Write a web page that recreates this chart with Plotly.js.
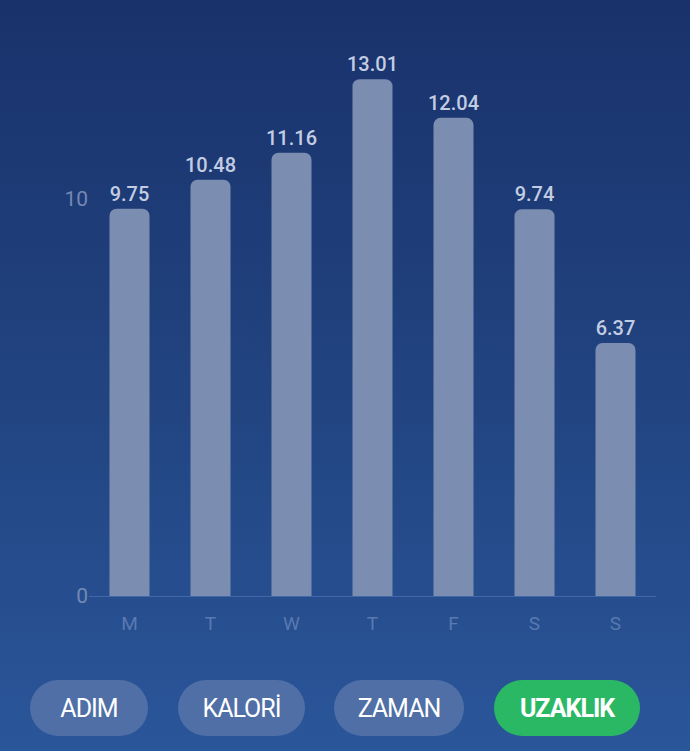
<!DOCTYPE html>
<html>
<head>
<meta charset="utf-8">
<script src="https://cdn.plot.ly/plotly-3.0.1.min.js"></script>
<style>
  html, body { margin: 0; padding: 0; }
  body {
    width: 690px; height: 751px; overflow: hidden; position: relative;
    background: linear-gradient(to bottom, #19326c 0%, #21437f 50%, #2a569a 100%);
    font-family: Roboto, "Noto Sans", sans-serif;
  }
  #chart { position: absolute; left: 0; top: 0; width: 690px; height: 751px; }
  .pill {
    position: absolute; top: 680px; height: 56px; border-radius: 28px;
    background: #4f6fa6; color: #ffffff; font-size: 25px;
    display: flex; align-items: center; justify-content: center;
    letter-spacing: -1px;
  }
  .pill.on { background: #2bb864; font-weight: bold; }
</style>
</head>
<body>
<div id="chart"></div>
<div class="pill" style="left:30px;width:118px;">ADIM</div>
<div class="pill" style="left:178px;width:127px;">KALORİ</div>
<div class="pill" style="left:334px;width:130px;">ZAMAN</div>
<div class="pill on" style="left:494px;width:146px;">UZAKLIK</div>
<script>
// weekly distance
const days = ["M", "T", "W", "T", "F", "S", "S"];
const distance = [9.75, 10.48, 11.16, 13.01, 12.04, 9.74, 6.37];
const yTicks = [0, 10];

const dayIdx = days.map((d, i) => i);

Plotly.newPlot(
  "chart",
  [
    {
      type: "bar",
      x: dayIdx,
      y: distance,
      marker: { color: "#7b8db0" },
      text: distance.map((v) => v.toFixed(2)),
      textposition: "outside",
      constraintext: "none",
      cliponaxis: false,
      textfont: { family: "Roboto", size: 20, weight: 500, color: "#c3cde2" },
      hoverinfo: "none",
    },
  ],
  {
    width: 690,
    height: 751,
    margin: { l: 89, r: 34, t: 40, b: 155 },
    paper_bgcolor: "rgba(0,0,0,0)",
    plot_bgcolor: "rgba(0,0,0,0)",
    bargap: 0.506,
    barcornerradius: 7,
    showlegend: false,
    xaxis: {
      range: [-0.5, 6.5],
      tickvals: dayIdx,
      ticktext: days,
      showgrid: false,
      zeroline: false,
      showline: false,
      ticks: "",
      ticklabelstandoff: 14,
      tickfont: { family: "Roboto", size: 19, color: "#5a79b0" },
    },
    yaxis: {
      range: [0, 14],
      tickvals: yTicks,
      ticktext: yTicks.map(String),
      showgrid: false,
      zeroline: true,
      zerolinecolor: "rgba(120,150,210,0.35)",
      zerolinewidth: 1,
      showline: false,
      ticks: "",
      tickfont: { family: "Roboto", size: 21, color: "#7489b5" },
    },
  },
  { staticPlot: true, displayModeBar: false },
);
</script>
</body>
</html>
